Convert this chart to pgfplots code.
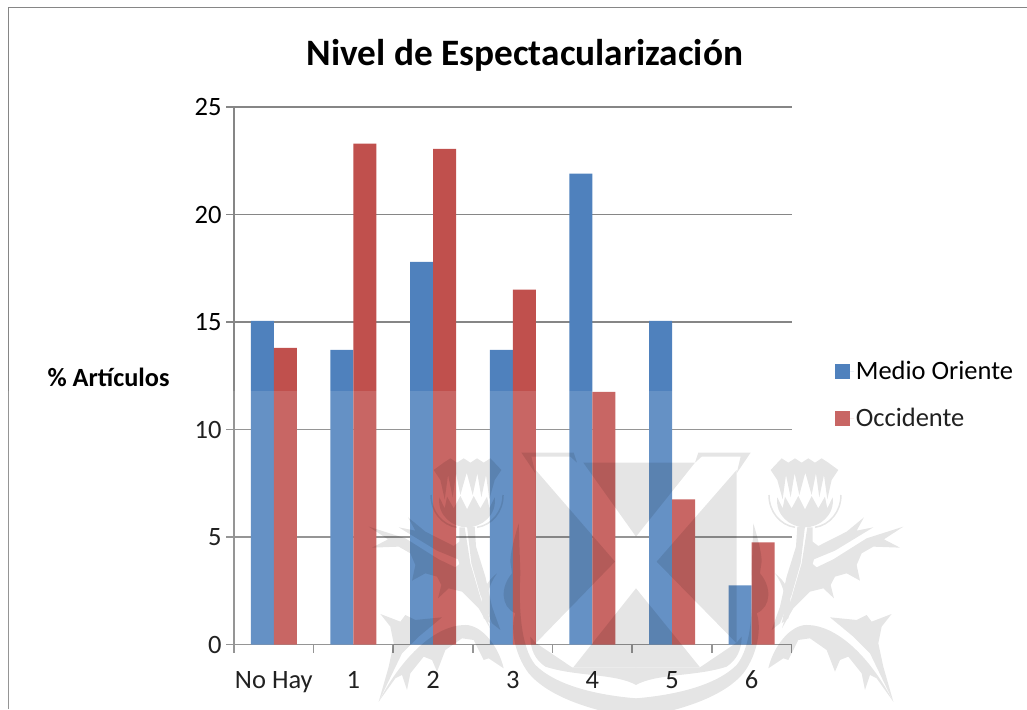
\documentclass[border=0pt]{standalone}
\usepackage{fontspec}
\setmainfont{Carlito}
\usepackage{pgfplots}
\pgfplotsset{compat=1.18}
\definecolor{mo}{HTML}{4F81BD}
\definecolor{oc}{HTML}{C0504D}
\definecolor{gl}{HTML}{868686}
\newcommand{\wmhalf}{%
  % rim of the arm
  \fill (565,38)--(722,38)--(680,100)--(692,50)--(575,50)--(555,68)--cycle;
  % band under the shield
  \fill (378,735) .. controls (440,700) and (560,710) .. (650,680) .. controls (680,660) and (695,630) .. (695,590)
     --(680,608)--(570,682)--(378,682)--cycle;
  % outer crescent
  \fill (730,250) .. controls (745,300) and (755,340) .. (755,365) -- (750,400) .. controls (785,440) and (785,500) .. (740,520)
     .. controls (755,560) and (745,640) .. (700,700) .. controls (640,770) and (520,810) .. (378,835) -- (378,775)
     .. controls (500,765) and (620,735) .. (680,675) .. controls (725,620) and (730,500) .. (725,400) -- cycle;
  \begin{scope}[shift={(630,0)}]
    % crown
    \fill (152,90)--(185,55)--(205,68)--(225,55)--(245,68)--(265,55)--(285,68)--(305,55)--(325,68)--(355,90)--(335,120)--(322,178)
       --(312,105)--(298,172)--(288,100)--(275,165)--(256,98)--(238,165)--(224,100)--(212,172)--(198,105)--(188,178)--(172,120)--cycle;
    % bulb
    \fill (172,172)--(188,205)--(195,170)--(215,205)--(235,168)--(255,208)--(275,168)--(295,205)--(315,170)--(322,205)--(338,172)
       .. controls (345,225) and (300,262) .. (255,262) .. controls (210,262) and (165,225) .. (172,172) -- cycle;
    % outer cup lines
    \draw[line width=1.5pt] (147,165) .. controls (147,215) and (180,255) .. (225,262);
    \draw[line width=1.5pt] (363,165) .. controls (363,215) and (330,255) .. (285,262);
  \end{scope}
  \begin{scope}[shift={(840,210)}]
    % stem, left of the white stripe, and its branch
    \fill (22,50)--(45,50)--(32,160)--(5,255)--(-30,340)--(-55,360)--(-30,290)--(-10,200)--(18,110)--cycle;
    \fill (-45,190) .. controls (0,225) and (10,270) .. (-5,325) -- (-25,340) .. controls (-10,280) and (-10,240) .. (-45,190) -- cycle;
    % upper leaf with its slot
    \fill (52,52)--(68,52)--(68,95)--(85,108)--(170,65)--(222,22)--(200,62)--(250,52)--(135,122)--(72,148)--(68,162)--(80,172)
      --(130,148)--(230,85)--(340,50)--(282,88)--(330,113)--(250,110)--(215,130)--(200,165)--(210,212)--(170,190)--(135,200)
      --(122,225)--(132,265)--(100,235)--(60,245)--(10,295)--(-24,355)--(5,262)--(35,160)--cycle;
  \end{scope}
  \begin{scope}[shift={(780,480)}]
    % lower arch
    \fill (-5,205) .. controls (10,140) and (60,75) .. (110,75) .. controls (200,75) and (300,170) .. (370,305)
      --(320,235)--(300,225)--(285,270)--(275,220)--(235,170)--(210,180)--(195,215)--(170,150)--(120,115)--(85,120)--(55,180)--(40,175)--cycle;
    % spike above the arch
    \fill (180,52)--(260,60)--(290,45)--(305,65)--(365,42)--(335,80)--(325,130)--(340,200)--(370,305)--(300,160)--(250,110)--cycle;
  \end{scope}%
}
\begin{document}
\begin{tikzpicture}
\useasboundingbox (0,0) rectangle (1027pt,709pt);
\begin{axis}[
  at={(234pt,64.5pt)}, anchor=south west,
  scale only axis, width=557.5pt, height=537.5pt,
  xmin=-0.5, xmax=6.5, ymin=0, ymax=25,
  ybar, bar width=23pt,
  axis x line*=bottom, axis y line*=left,
  axis line style={gl, line width=1.6pt, -},
  xtick={-0.5,0.5,1.5,2.5,3.5,4.5,5.5,6.5},
  xticklabels={},
  extra x ticks={0,1,2,3,4,5,6},
  extra x tick labels={No Hay,1,2,3,4,5,6},
  extra x tick style={major tick length=0pt, xticklabel style={yshift=-23pt}},
  x tick style={gl, line width=1.6pt},
  ytick={0,5,10,15,20,25},
  ymajorgrids, grid style={gl, line width=1.6pt},
  y tick style={gl, line width=1.6pt},
  tick align=outside, major tick length=8pt,
  /pgf/number format/assume math mode=true,
  tick label style={font=\fontsize{26.5}{30}\selectfont, text=black},
  yticklabel style={xshift=-1pt},
  title={\textbf{Nivel de Espectacularización}},
  title style={font=\fontsize{37.3}{42}\selectfont, at={(axis description cs:0.522,1.0847)}, anchor=center},
  ylabel={\textbf{\% Artículos}},
  ylabel style={font=\fontsize{26.3}{30}\selectfont, rotate=-90, at={(axis description cs:-0.225,0.497)}, anchor=center},
  legend style={draw=none, fill=none, at={(axis description cs:1.072,0.465)}, anchor=west,
    font=\fontsize{26.5}{30}\selectfont, row sep=23pt},
  legend cell align=left,
  legend image code/.code={\fill[#1] (0pt,-7.5pt) rectangle (15pt,7.5pt); \path (0pt,0pt) -- (19pt,0pt);},
]
\addplot[fill=mo, draw=none, bar shift=-11.5pt] coordinates {(0,15.05) (1,13.7) (2,17.8) (3,13.7) (4,21.9) (5,15.05) (6,2.75)};
\addplot[fill=oc, draw=none, bar shift=11.5pt] coordinates {(0,13.8) (1,23.3) (2,23.05) (3,16.5) (4,11.75) (5,6.75) (6,4.75)};
\legend{Medio Oriente,Occidente}
\end{axis}
\begin{scope}[shift={(0,709pt)}, x=1pt, y=-1pt]
  \draw[gl, line width=1.5pt] (8.5,709)--(8.5,7.5)--(1027,7.5);
  \fill[white, opacity=0.13] (0,391) rectangle (1027,709);
  \begin{scope}
    \clip (0,0) rectangle (1027,709);
    \begin{scope}[transparency group, opacity=0.1]
      \begin{scope}[shift={(510,440)}, x=0.3333pt, y=-0.3333pt]
        \fill (220,68)--(555,68)--(378,290)--cycle;
        \fill (77,90)--(315,365)--(77,610)--cycle;
        \fill (680,90)--(440,365)--(680,610)--cycle;
        \fill (378,445)--(570,682)--(190,682)--cycle;
        \wmhalf
        \begin{scope}[xshift=252pt, xscale=-1]
          \wmhalf
        \end{scope}
      \end{scope}
    \end{scope}
  \end{scope}
\end{scope}
\end{tikzpicture}
\end{document}
